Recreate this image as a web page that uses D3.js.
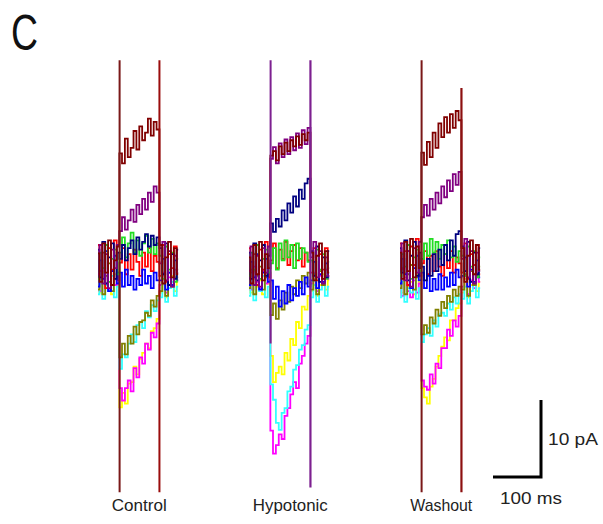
<!DOCTYPE html>
<html><head><meta charset="utf-8">
<script src="https://cdn.jsdelivr.net/npm/d3@7"></script>
<style>html,body{margin:0;padding:0;background:#fff;}svg{display:block;}</style>
</head><body>
<script>
// ---------- DATA ----------
const groups = ["Control", "Hypotonic", "Washout"];
const times = [0,6,12,18,24,30,36,42, 47,53,59,65,71,77,83,89,95,101,107,113,119,125, 131,137,143,149,155,161,167]; // ms
const seriesNames = ["maroon","purple","navy","green","red","blue","olive","cyan","yellow","magenta"];
const seriesColors = ["#800000","#800080","#000080","#22dd22","#ff0000","#0000ff","#808000","#33ffff","#ffff00","#ff00ff"];

// current (pA): 8 pre-step, 14 step, 7 post-step samples
const control = [
 [1.5,-2.2,2.8,-1.0,3.2,-2.6,0.6,2.4, 14.5,13.2,16.4,14.0,15.2,17.4,15.0,18.0,16.2,17.2,19.0,16.8,18.6,17.6, 2.6,-2.4,1.0,3.0,-1.6,2.2,-1.2],
 [-1.2,2.6,-2.4,1.4,-3.0,2.0,-0.4,2.6, 4.4,6.2,4.6,5.8,7.2,5.6,7.8,6.6,8.6,7.2,9.4,8.2,10.2,9.4, 0.2,3.0,-2.0,1.8,-2.8,1.2,-1.0],
 [2.0,-1.6,3.0,-2.4,1.0,2.8,-1.8,1.6, 0.8,2.6,0.6,2.2,3.2,1.4,3.6,2.0,3.0,4.0,2.4,3.8,2.6,3.6, 2.2,-1.2,2.8,-2.6,1.4,-1.8,2.0],
 [-1.8,1.6,-0.4,2.6,-2.2,0.8,2.0,-1.2, 1.6,3.6,1.0,2.8,4.2,1.6,3.2,1.2,2.8,3.8,1.6,3.4,1.4,2.8, 1.2,-1.8,2.4,-0.6,1.6,-2.2,0.8],
 [2.6,-0.8,1.6,-3.0,2.2,-0.6,3.2,-2.0, 0.3,2.2,-1.2,1.4,-0.6,2.0,0.4,-1.4,1.6,-0.2,2.2,-0.8,1.2,0.4, -1.4,2.6,-2.2,1.4,-0.4,2.4,-1.6],
 [-2.8,0.6,-1.8,1.8,-3.4,-0.8,1.2,-2.4, -1.0,-2.8,-0.6,-2.6,-1.4,-3.2,-1.8,-2.6,-0.6,-2.4,-1.4,-3.0,-1.0,-2.0, -2.0,0.8,-3.2,-1.0,-2.6,0.6,-2.0],
 [-3.2,-0.8,-3.8,-1.4,0.2,-3.4,-1.8,-1.0, -12.0,-10.2,-11.6,-9.2,-10.2,-8.0,-9.0,-7.4,-7.2,-6.2,-6.6,-4.6,-5.4,-4.0, -3.4,-1.2,-4.0,-1.0,-2.8,-1.6,-0.6],
 [-3.8,-1.8,-4.4,-2.6,-3.4,-1.4,-4.2,-2.8, -13.5,-11.6,-12.0,-10.2,-9.0,-10.0,-7.8,-7.4,-8.2,-6.0,-6.8,-5.2,-6.0,-4.6, -4.2,-2.4,-4.8,-3.0,-2.2,-4.0,-2.8],
 [-2.0,-3.6,-1.0,-3.0,-2.2,-3.8,-1.2,-2.6, -18.5,-16.6,-18.0,-15.4,-15.2,-13.2,-14.2,-12.2,-11.4,-10.2,-10.8,-8.6,-8.2,-7.0, -3.6,-1.8,-4.2,-2.6,-1.4,-3.4,-2.2],
 [-1.4,-3.4,-0.4,-2.4,-3.2,-0.8,-2.6,-1.2, -16.0,-17.6,-16.0,-15.0,-16.4,-13.4,-14.6,-12.0,-12.8,-10.2,-11.0,-8.8,-9.4,-7.6, -2.6,-1.0,-3.6,-1.6,-2.8,-0.6,-2.0]
];
const hypotonic = [
 [1.0,-2.4,2.6,-1.2,3.0,-2.0,1.4,-0.4, 14.2,14.8,13.6,15.4,14.4,15.9,14.8,16.2,15.4,16.7,15.6,17.0,16.2,17.2, 1.6,-2.0,1.2,2.8,-1.8,1.8,-1.0],
 [-0.8,2.4,-2.6,1.2,-2.8,2.2,-1.0,2.4, 13.8,15.3,13.2,15.8,14.0,16.3,14.4,16.6,14.9,17.1,15.2,17.5,15.7,17.8, 1.0,3.0,-1.6,1.8,-2.4,1.0,-1.4],
 [1.6,-1.8,2.8,-2.0,0.6,2.6,-1.4,1.2, 5.4,4.3,6.0,5.0,7.1,5.8,8.0,6.8,8.9,7.6,9.8,8.6,10.6,11.2, 1.8,-1.4,2.4,-2.2,1.0,-1.6,1.8],
 [-1.4,1.6,-0.6,2.6,-1.8,0.8,2.0,-1.0, 0.2,2.2,-0.6,2.8,0.6,3.2,1.0,2.6,-0.4,2.8,0.8,2.2,1.6,0.4, 0.6,-2.0,2.0,-0.6,1.4,-1.8,0.4],
 [2.2,-1.0,1.4,-2.6,2.0,-0.6,3.0,-1.6, 0.6,2.8,-0.4,2.0,0.8,3.0,0.0,1.8,2.6,0.6,2.2,-0.2,1.6,0.6, -1.0,2.2,-2.0,1.4,-0.6,2.2,-1.4],
 [-2.6,0.4,-1.6,1.4,-3.2,-1.0,0.8,-2.2, -2.0,-4.4,-2.8,-5.4,-3.4,-5.0,-2.6,-4.6,-3.0,-4.0,-2.2,-3.8,-1.6,-2.8, -2.0,0.4,-3.0,-1.2,-2.2,0.2,-1.6],
 [-3.0,-0.6,-3.8,-1.4,-0.2,-3.2,-1.6,-1.0, -6.5,-5.0,-7.0,-4.6,-5.8,-3.6,-4.8,-2.8,-3.8,-2.0,-3.0,-1.4,-2.4,-1.0, -3.2,-1.2,-3.8,-0.8,-2.6,-1.4,-0.4],
 [-4.0,-2.0,-4.6,-2.6,-3.4,-1.4,-4.2,-2.8, -15.5,-17.5,-20.5,-21.4,-19.2,-18.6,-16.4,-15.8,-13.6,-13.0,-11.0,-10.4,-8.4,-7.8, -4.2,-2.6,-4.8,-3.2,-2.2,-4.0,-2.8],
 [-1.8,-3.6,-0.8,-2.8,-2.0,-3.8,-1.2,-2.4, -11.8,-15.2,-14.0,-13.2,-14.2,-11.4,-12.4,-9.6,-10.4,-7.4,-8.2,-5.4,-5.8,-4.0, -3.4,-1.8,-4.0,-2.6,-1.2,-3.2,-2.0],
 [-1.2,-3.2,-0.2,-2.2,-3.0,-0.8,-2.4,-1.2, -21.5,-24.5,-23.4,-22.0,-22.6,-19.6,-18.6,-16.8,-15.2,-16.0,-12.8,-11.8,-10.2,-9.2, -2.4,-1.0,-3.4,-1.4,-2.6,-0.6,-1.8]
];
const washout = [
 [1.6,-1.8,3.0,-0.8,3.4,-1.6,2.4,-0.4, 14.6,13.0,16.0,14.0,17.2,15.2,18.4,16.6,19.2,17.2,19.6,17.8,20.0,18.8, 2.2,-2.2,1.2,3.2,-1.2,2.6,-0.6],
 [-0.6,2.8,-2.0,1.8,-2.8,2.2,-1.0,3.0, 6.2,7.8,6.4,8.6,7.2,9.4,8.0,10.2,8.8,11.0,9.6,11.8,10.4,12.1, 0.8,3.4,-1.6,1.8,-2.4,1.6,-0.8],
 [2.2,-1.0,3.2,-2.0,1.2,3.0,-1.4,1.6, -0.2,-2.0,0.8,-1.4,1.4,-0.8,2.0,0.0,2.6,0.6,3.2,1.2,4.0,4.4, 2.4,-0.8,3.0,-2.2,1.6,-1.2,2.2],
 [-1.4,1.4,-0.2,2.6,-1.8,1.0,2.0,-0.8, 0.8,2.8,1.2,3.4,1.6,3.0,0.8,2.6,1.4,3.2,1.0,2.4,0.4,1.8, 1.2,-1.4,2.4,-0.2,1.8,-1.6,1.0],
 [2.8,-0.4,1.8,-2.6,2.4,0.0,3.4,-1.4, 0.2,1.8,-1.2,1.2,-0.8,1.8,-0.2,-1.4,1.4,-0.4,1.8,-1.0,1.0,0.2, -1.0,2.8,-1.8,1.4,0.0,2.6,-1.2],
 [-2.4,0.8,-1.2,1.8,-3.0,-0.4,1.2,-2.0, -1.0,-3.0,-1.4,-3.4,-1.8,-3.2,-1.2,-3.2,-1.6,-2.8,-1.0,-2.6,-0.6,-1.6, -1.4,1.0,-2.8,-0.6,-2.2,0.6,-1.6],
 [-3.0,-0.6,-3.8,-1.2,0.0,-3.2,-1.6,-0.8, -9.0,-7.8,-8.8,-6.8,-7.6,-5.8,-6.6,-4.8,-5.6,-4.0,-4.8,-3.2,-4.0,-2.8, -3.2,-1.2,-4.0,-0.8,-2.6,-1.4,-0.2],
 [-4.2,-2.2,-4.8,-3.0,-3.6,-1.6,-4.4,-3.0, -10.0,-9.0,-8.2,-9.2,-7.2,-8.0,-6.4,-6.2,-6.6,-5.0,-5.8,-4.2,-5.0,-3.8, -4.4,-2.8,-5.0,-3.4,-2.4,-4.2,-3.0],
 [-2.0,-3.6,-1.0,-2.8,-2.2,-3.8,-1.2,-2.4, -16.0,-17.2,-18.0,-15.8,-14.8,-13.2,-11.8,-10.6,-9.4,-9.8,-7.2,-7.2,-5.6,-5.0, -3.6,-1.8,-4.2,-2.6,-1.2,-3.4,-2.2],
 [-2.4,-4.0,-1.6,-3.4,-4.2,-2.0,-3.6,-2.4, -15.0,-15.8,-16.2,-14.2,-15.4,-12.8,-13.4,-10.8,-10.8,-8.4,-9.2,-7.2,-8.0,-6.6, -2.8,-1.4,-3.8,-2.0,-3.0,-1.0,-2.2]
];
const groupData = [control, hypotonic, washout];

// capacitive transients at step on/off (ms), clipped extents (pA)
const transientTimes = [45, 128];
const transientTop = [[26.6, 26.6], [26.6, 26.6], [26.6, 23.0]];
const transientBottom = [[-29.5, -29.5], [-10.2, -28.9], [-29.5, -29.5]];
const transientColors = [["#7a1818", "#9a0c0c"], ["#7d2090", "#7d2090"], ["#7a1818", "#8c1010"]];

const scaleBarMs = 100, scaleBarPA = 10;
const scaleBarLabels = ["100 ms", "10 pA"];
const panelLabel = "C";

// ---------- DRAW ----------
const W = 603, H = 524;
const svg = d3.select("body").append("svg").attr("width", W).attr("height", H);
const y = d3.scaleLinear().domain([0, 10]).range([265, 188]);
const pxPerMs = 0.48;
const origins = [98, 249, 400];
const drawOrder = [8, 9, 7, 6, 4, 5, 3, 2, 1, 0];

groups.forEach((g, gi) => {
  const x = d3.scaleLinear().domain([0, 100]).range([origins[gi], origins[gi] + 100 * pxPerMs]);
  const line = d3.line().x((d, i) => x(times[i])).y(d => y(d)).curve(d3.curveStep);
  const gg = svg.append("g");
  drawOrder.forEach(si => {
    gg.append("path").attr("d", line(groupData[gi][si]))
      .attr("fill", "none").attr("stroke", seriesColors[si])
      .attr("stroke-width", 1.8).attr("stroke-linejoin", "miter");
  });
  transientTimes.forEach((t, ti) => {
    gg.append("line")
      .attr("x1", x(t)).attr("x2", x(t))
      .attr("y1", y(transientTop[gi][ti])).attr("y2", y(transientBottom[gi][ti]))
      .attr("stroke", transientColors[gi][ti]).attr("stroke-width", ti === 1 && gi !== 0 ? 2.2 : 2);
  });
  const cx = x(86);
  const labelW = [55, 75, 62][gi];
  svg.append("text").attr("x", cx).attr("y", 511).attr("text-anchor", "middle")
    .attr("font-family", "Liberation Sans, Arial, sans-serif").attr("font-size", 17)
    .attr("textLength", labelW).attr("lengthAdjust", "spacingAndGlyphs")
    .attr("fill", "#222").text(g);
});

// scale bar
const sbx = d3.scaleLinear().domain([0, scaleBarMs]).range([493, 493 + scaleBarMs * pxPerMs]);
const sby = d3.scaleLinear().domain([0, scaleBarPA]).range([477, 477 - 77]);
svg.append("path")
  .attr("d", `M${sbx(0)},${sby(0)}H${sbx(scaleBarMs)}V${sby(scaleBarPA)}`)
  .attr("fill", "none").attr("stroke", "#000").attr("stroke-width", 3).attr("stroke-linejoin", "miter");
svg.append("text").attr("x", 500).attr("y", 504)
  .attr("font-family", "Liberation Sans, Arial, sans-serif").attr("font-size", 17)
  .attr("textLength", 62).attr("lengthAdjust", "spacingAndGlyphs").attr("fill", "#222").text(scaleBarLabels[0]);
svg.append("text").attr("x", 548).attr("y", 445)
  .attr("font-family", "Liberation Sans, Arial, sans-serif").attr("font-size", 17)
  .attr("textLength", 50).attr("lengthAdjust", "spacingAndGlyphs").attr("fill", "#222").text(scaleBarLabels[1]);

svg.append("text").attr("x", 11).attr("y", 50)
  .attr("font-family", "Liberation Sans, Arial, sans-serif").attr("font-size", 50)
  .attr("textLength", 27).attr("lengthAdjust", "spacingAndGlyphs").attr("fill", "#111").text(panelLabel);
</script>
</body></html>
